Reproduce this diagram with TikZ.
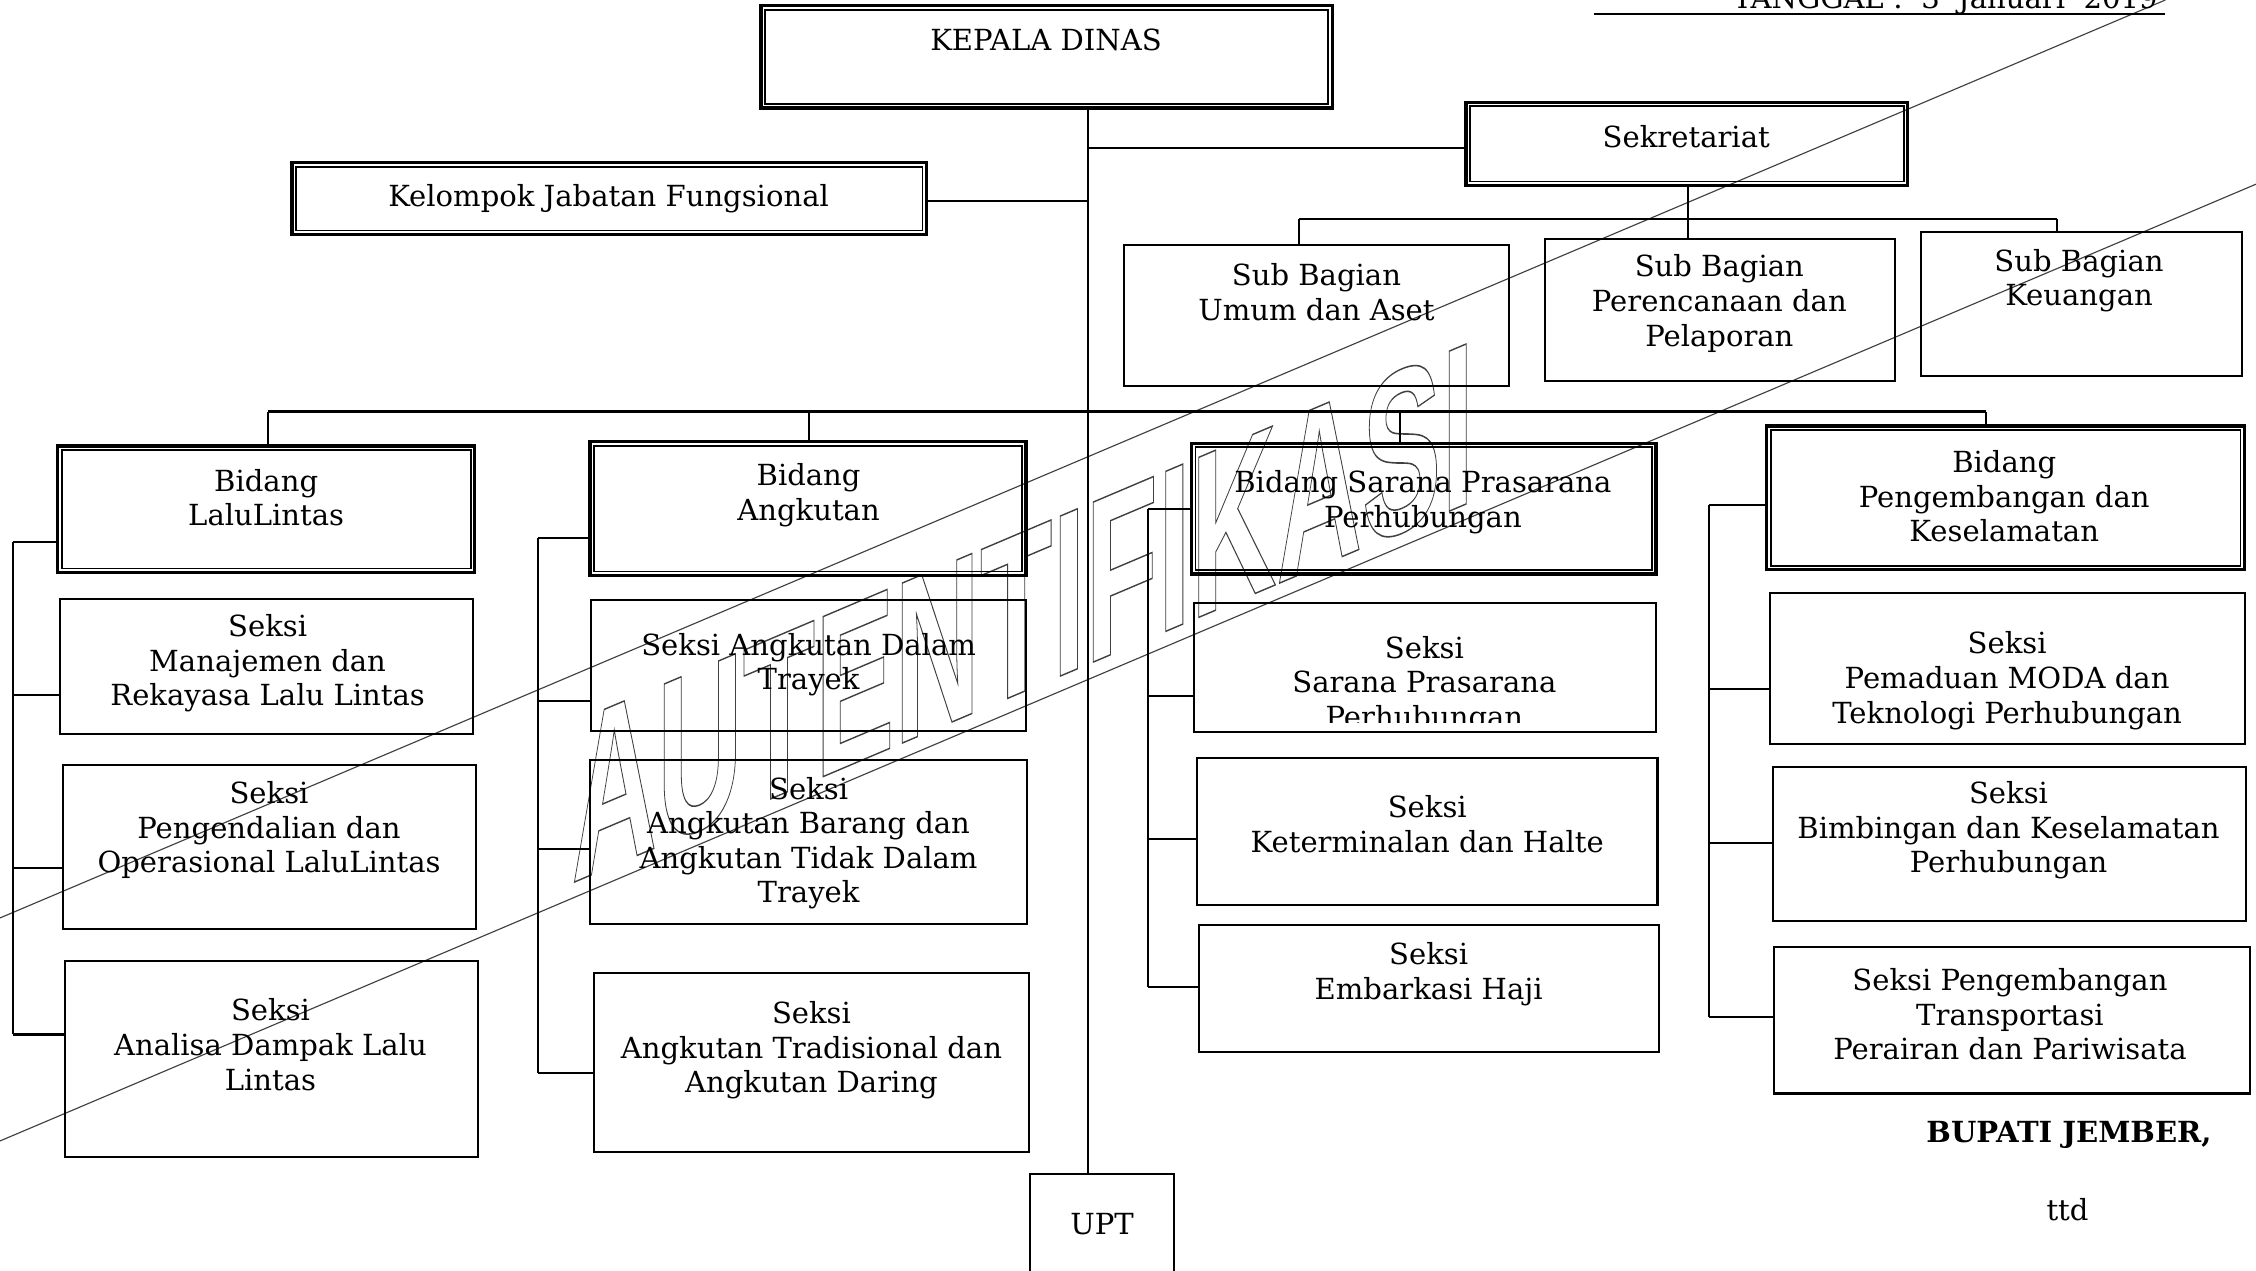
\documentclass[tikz,border=0pt]{standalone}
\usepackage{fontspec}
\setmainfont{DejaVu Serif}
\newfontfamily\wmfont{Liberation Sans}
\newcommand\mkbox[6]{\node[#6, minimum width={(#4-#2)*0.02cm}, minimum height={(#5-#3)*0.02cm}] (#1) at ({(#2+#4)/2},{(#3+#5)/2}) {};}
\newcommand\innerline[1]{\draw[line width=0.7pt] ([xshift=0.08cm,yshift=-0.08cm]#1.north west) rectangle ([xshift=-0.08cm,yshift=0.08cm]#1.south east);}
\begin{document}
\begin{tikzpicture}[x=0.02cm,y=-0.02cm,
  sbox/.style={draw, line width=0.8pt, inner sep=0pt},
  dbox/.style={draw, line width=1.3pt, inner sep=0pt},
  txt/.style={align=center, inner sep=0pt, font=\fontsize{11.5}{13.7}\selectfont},
  conn/.style={line width=0.8pt},
  wm/.style={line width=0.45pt, black!75}]
\useasboundingbox[fill=white] (0,0) rectangle (1568,883);

% watermark lines and text
\coordinate (wl1a) at (0,638); \coordinate (wl1b) at (1505,0);
\coordinate (wl2a) at (0,793); \coordinate (wl2b) at (1568,128);
\draw[wm] (wl1a) -- (wl1b);
\draw[wm] (wl2a) -- (wl2b);
\node[anchor=base west, inner sep=0pt, yslant=0.424, xscale=0.51, text=black!75,
  font=\wmfont\bfseries\fontsize{92}{92}\selectfont] (wmark) at (397,614)
  {\special{pdf:literal direct 1 Tr 0.6 w}AUTENTIFIKASI\special{pdf:literal direct 0 Tr}};

% header
\node[txt, anchor=base] (tgl) at (1352,6) {TANGGAL~:~~3~~Januari~~2019};
\coordinate (tgla) at (1108,10); \coordinate (tglb) at (1505,10);
\draw[conn] (tgla) -- (tglb);

% boxes
\mkbox{kd}{529}{4}{926}{75}{dbox}
\mkbox{sek}{1019}{71}{1326}{129}{dbox}
\mkbox{kjf}{203}{113}{644}{163}{dbox}
\mkbox{sb1}{781}{170}{1049}{268}{sbox}
\mkbox{sb2}{1074}{166}{1317}{265}{sbox}
\mkbox{sb3}{1335}{161}{1558}{261}{sbox}
\mkbox{b1}{40}{310}{330}{398}{dbox}
\mkbox{b2}{410}{307}{713}{400}{dbox}
\mkbox{b3}{828}{308}{1151}{399}{dbox}
\mkbox{b4}{1228}{296}{1560}{396}{dbox}
\mkbox{s11}{42}{416}{329}{510}{sbox}
\mkbox{s12}{44}{532}{331}{646}{sbox}
\mkbox{s13}{45}{668}{332}{804}{sbox}
\mkbox{s21}{411}{417}{713}{508}{sbox}
\mkbox{s22}{410}{528}{714}{642}{sbox}
\mkbox{s23}{413}{676}{715}{801}{sbox}
\mkbox{s31}{830}{419}{1151}{509}{sbox}
\mkbox{s32}{832}{527}{1152}{629}{sbox}
\mkbox{s33}{833}{643}{1153}{731}{sbox}
\mkbox{s41}{1230}{412}{1560}{517}{sbox}
\mkbox{s42}{1232}{533}{1561}{640}{sbox}
\mkbox{s43}{1233}{658}{1564}{760}{sbox}
\mkbox{upt}{716}{816}{816}{890}{sbox}
\innerline{kd}\innerline{sek}\innerline{kjf}
\innerline{b1}\innerline{b2}\innerline{b3}\innerline{b4}

% texts
\node[txt] (kd-t) at (727,28) {KEPALA DINAS};
\node[txt] (sek-t) at (1172,95) {Sekretariat};
\node[txt] (kjf-t) at (423,138) {Kelompok Jabatan Fungsional};
\node[txt] (sb1-t) at (915,203) {Sub Bagian\\Umum dan Aset};
\node[txt] (sb2-t) at (1195,211) {Sub Bagian\\Perencanaan dan\\Pelaporan};
\node[txt] (sb3-t) at (1445,195) {Sub Bagian\\Keuangan};
\node[txt] (b1-t) at (185,346) {Bidang\\LaluLintas};
\node[txt] (b2-t) at (562,344) {Bidang\\Angkutan};
\node[txt] (b3-t) at (989,349) {Bidang Sarana Prasarana\\Perhubungan};
\node[txt] (b4-t) at (1393,345) {Bidang\\Pengembangan dan\\Keselamatan};
\node[txt] (s11-t) at (186,461) {Seksi\\Manajemen dan\\Rekayasa Lalu Lintas};
\node[txt] (s12-t) at (187,577) {Seksi\\Pengendalian dan\\Operasional LaluLintas};
\node[txt] (s13-t) at (188,726) {Seksi\\Analisa Dampak Lalu\\Lintas};
\node[txt] (s21-t) at (562,462) {Seksi Angkutan Dalam\\Trayek};
\node[txt] (s22-t) at (562,586) {Seksi\\Angkutan Barang dan\\Angkutan Tidak Dalam\\Trayek};
\node[txt] (s23-t) at (564,730) {Seksi\\Angkutan Tradisional dan\\Angkutan Daring};
\begin{scope}
\clip (831,420) rectangle (1150,502);
\node[txt] (s31-t) at (990,476) {Seksi\\Sarana Prasarana\\Perhubungan};
\end{scope}
\node[txt] (s32-t) at (992,573) {Seksi\\Keterminalan dan Halte};
\node[txt] (s33-t) at (993,677) {Seksi\\Embarkasi Haji};
\node[txt] (s41-t) at (1395,473) {Seksi\\Pemaduan MODA dan\\Teknologi Perhubungan};
\node[txt] (s42-t) at (1396,577) {Seksi\\Bimbingan dan Keselamatan\\Perhubungan};
\node[txt] (s43-t) at (1397,705) {Seksi Pengembangan\\Transportasi\\Perairan dan Pariwisata};
\node[txt] (upt-t) at (766,851) {UPT};
\node[txt, font=\fontsize{11.5}{13.7}\selectfont\bfseries] (bup) at (1438,789) {BUPATI JEMBER,};
\node[txt] (ttd) at (1437,841) {ttd};

% connectors: trunk
\coordinate (tr) at (756,0);
\draw[conn] (kd.south -| tr) -- (upt.north -| tr);
\coordinate (jsek) at (756,103);
\draw[conn] (jsek) -- (jsek -| sek.west);
\coordinate (jkjf) at (756,140);
\draw[conn] (jkjf) -- (jkjf -| kjf.east);

% sekretariat branch
\coordinate (sbus) at (1173,152);
\coordinate (sbl) at (903,152);
\coordinate (sbr) at (1430,152);
\draw[conn] (sek.south -| sbus) -- (sbus);
\draw[conn] (sbl) -- (sbr);
\draw[conn] (sbl) -- (sbl |- sb1.north);
\draw[conn] (sbus) -- (sbus |- sb2.north);
\draw[conn] (sbr) -- (sbr |- sb3.north);

% main bus
\coordinate (m1) at (186,286);
\coordinate (m2) at (562,286);
\coordinate (m3) at (973,286);
\coordinate (m4) at (1380,286);
\draw[conn] (m1) -- (m4);
\draw[conn] (m1) -- (m1 |- b1.north);
\draw[conn] (m2) -- (m2 |- b2.north);
\draw[conn] (m3) -- (m3 |- b3.north);
\draw[conn] (m4) -- (m4 |- b4.north);

% column 1
\coordinate (c1a) at (9,377); \coordinate (c1b) at (9,483);
\coordinate (c1c) at (9,603); \coordinate (c1d) at (9,719);
\draw[conn] (c1a) -- (c1d);
\draw[conn] (c1a) -- (c1a -| b1.west);
\draw[conn] (c1b) -- (c1b -| s11.west);
\draw[conn] (c1c) -- (c1c -| s12.west);
\draw[conn] (c1d) -- (c1d -| s13.west);

% column 2
\coordinate (c2a) at (374,374); \coordinate (c2b) at (374,487);
\coordinate (c2c) at (374,590); \coordinate (c2d) at (374,746);
\draw[conn] (c2a) -- (c2d);
\draw[conn] (c2a) -- (c2a -| b2.west);
\draw[conn] (c2b) -- (c2b -| s21.west);
\draw[conn] (c2c) -- (c2c -| s22.west);
\draw[conn] (c2d) -- (c2d -| s23.west);

% column 3
\coordinate (c3a) at (798,354); \coordinate (c3b) at (798,484);
\coordinate (c3c) at (798,583); \coordinate (c3d) at (798,686);
\draw[conn] (c3a) -- (c3d);
\draw[conn] (c3a) -- (c3a -| b3.west);
\draw[conn] (c3b) -- (c3b -| s31.west);
\draw[conn] (c3c) -- (c3c -| s32.west);
\draw[conn] (c3d) -- (c3d -| s33.west);

% column 4
\coordinate (c4a) at (1188,351); \coordinate (c4b) at (1188,479);
\coordinate (c4c) at (1188,586); \coordinate (c4d) at (1188,707);
\draw[conn] (c4a) -- (c4d);
\draw[conn] (c4a) -- (c4a -| b4.west);
\draw[conn] (c4b) -- (c4b -| s41.west);
\draw[conn] (c4c) -- (c4c -| s42.west);
\draw[conn] (c4d) -- (c4d -| s43.west);
\end{tikzpicture}
\end{document}
